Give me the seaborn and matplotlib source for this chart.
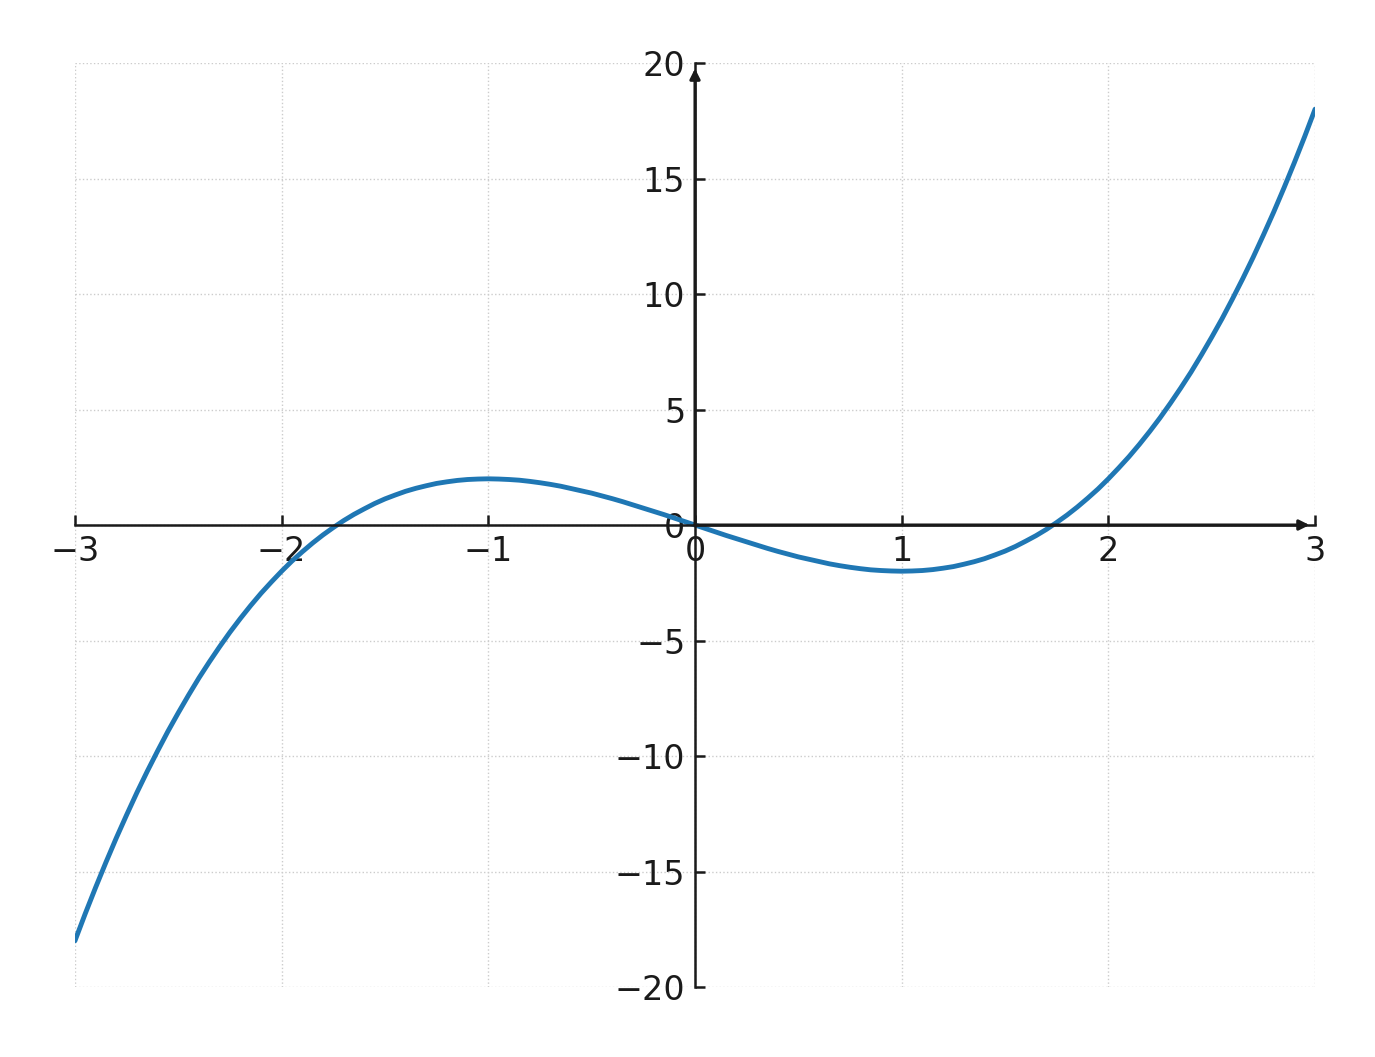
import numpy as np
import pandas as pd
import matplotlib
matplotlib.use('Agg')
import matplotlib.pyplot as plt
import seaborn as sns

# values, x in steps of 0.05 (curve is point-symmetric about the origin)
x_vals = np.round(np.arange(-60, 61) / 20, 2)
y_neg = [-18.0, -16.82, -15.69, -14.60, -13.55, -12.55, -11.58, -10.66, -9.78, -8.93,
         -8.13, -7.36, -6.62, -5.93, -5.27, -4.64, -4.05, -3.49, -2.96, -2.47,
         -2.0, -1.56, -1.16, -0.78, -0.43, -0.11, 0.19, 0.46, 0.70, 0.93,
         1.13, 1.30, 1.46, 1.59, 1.70, 1.80, 1.87, 1.93, 1.97, 1.99,
         2.0, 1.99, 1.97, 1.94, 1.89, 1.83, 1.76, 1.68, 1.58, 1.48,
         1.38, 1.26, 1.14, 1.01, 0.87, 0.73, 0.59, 0.45, 0.30, 0.15]
y_vals = y_neg + [0.0] + [-v for v in y_neg[::-1]]

x_ticks = [-3, -2, -1, 0, 1, 2, 3]
y_ticks = [-20, -15, -10, -5, 0, 5, 10, 15, 20]

sns.set_style('ticks')
plt.rcParams['font.family'] = ['DejaVu Sans']

ink = '#1a1a1a'
df = pd.DataFrame({'x': x_vals, 'y': y_vals})

fig = plt.figure(figsize=(13.75, 10.57), dpi=100)
ax = fig.add_axes([0.0545, 0.0662, 0.9019, 0.8742])

sns.lineplot(data=df, x='x', y='y', ax=ax, color='#1f77b4', linewidth=3.5)

ax.set_xlim(-3, 3)
ax.set_ylim(-20, 20)
ax.set_xticks(x_ticks)
ax.set_yticks(y_ticks)
ax.set_xlabel('')
ax.set_ylabel('')

ax.spines['left'].set_position(('data', 0))
ax.spines['bottom'].set_position(('data', 0))
ax.spines['top'].set_visible(False)
ax.spines['right'].set_visible(False)
for s in ['left', 'bottom']:
    ax.spines[s].set_color(ink)
    ax.spines[s].set_linewidth(1.8)

ax.tick_params(direction='in', length=7, width=1.8, color=ink,
               labelsize=24, labelcolor=ink, pad=7)
ax.grid(True, linestyle=':', color='#cccccc', linewidth=1)
ax.set_axisbelow(True)

# arrows on the positive axes
ax.annotate('', xy=(3, 0), xytext=(0, 0),
            arrowprops=dict(arrowstyle='-|>', color=ink, lw=2.2, mutation_scale=15,
                            shrinkA=0, shrinkB=4))
ax.annotate('', xy=(0, 20), xytext=(0, 0),
            arrowprops=dict(arrowstyle='-|>', color=ink, lw=2.2, mutation_scale=15,
                            shrinkA=0, shrinkB=4))

for sp in ax.spines.values():
    sp.set_clip_on(False)

fig.savefig('out.png', dpi=100)
